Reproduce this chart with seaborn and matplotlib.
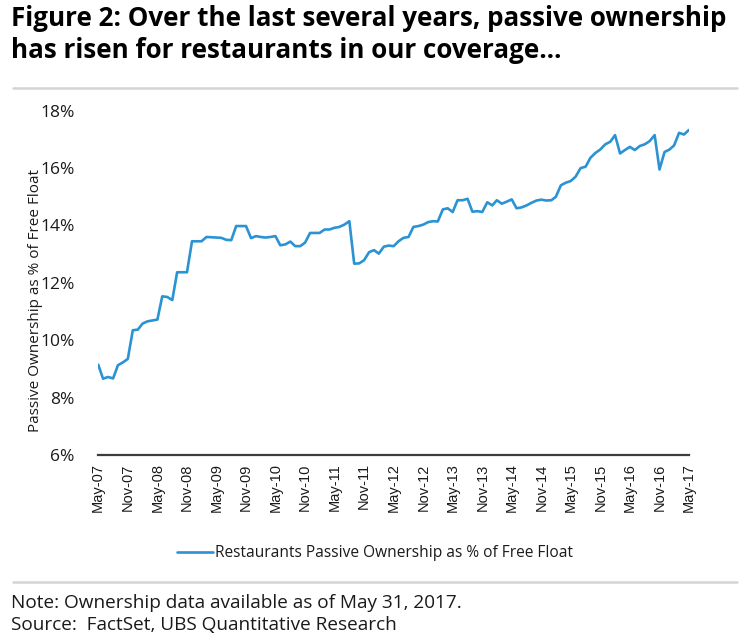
"""Restaurants passive ownership as % of free float, May-07 to May-17"""

import pandas as pd
import matplotlib
matplotlib.use('Agg')
import matplotlib.pyplot as plt
from matplotlib.lines import Line2D
from matplotlib.ticker import FuncFormatter
import seaborn as sns

# Monthly readings (% of free float)
start_month = '2007-05-31'
passive_pct = [
    9.15, 8.66, 8.72, 8.67, 9.13, 9.23, 9.35, 10.35, 10.37, 10.58,
    10.66, 10.69, 10.72, 11.53, 11.51, 11.40, 12.37, 12.37, 12.37, 13.45,
    13.45, 13.45, 13.60, 13.59, 13.58, 13.57, 13.50, 13.49, 13.98, 13.98,
    13.98, 13.56, 13.63, 13.60, 13.58, 13.60, 13.63, 13.31, 13.34, 13.44,
    13.28, 13.28, 13.40, 13.74, 13.74, 13.74, 13.86, 13.86, 13.92, 13.95,
    14.03, 14.15, 12.67, 12.68, 12.79, 13.07, 13.14, 13.02, 13.26, 13.30,
    13.28, 13.45, 13.57, 13.60, 13.95, 13.98, 14.03, 14.12, 14.15, 14.14,
    14.56, 14.60, 14.47, 14.88, 14.88, 14.93, 14.48, 14.50, 14.47, 14.81,
    14.70, 14.88, 14.76, 14.83, 14.91, 14.60, 14.63, 14.70, 14.79, 14.87,
    14.90, 14.87, 14.88, 15.00, 15.40, 15.49, 15.55, 15.70, 16.00, 16.05,
    16.36, 16.53, 16.65, 16.83, 16.92, 17.15, 16.51, 16.63, 16.74, 16.63,
    16.77, 16.83, 16.94, 17.15, 15.95, 16.56, 16.65, 16.79, 17.23, 17.17,
    17.33,
]
y_ticks = [6, 8, 10, 12, 14, 16, 18]
series_name = 'Restaurants Passive Ownership as % of Free Float'
title = ('Figure 2: Over the last several years, passive ownership\n'
         'has risen for restaurants in our coverage\u2026')
note = 'Note: Ownership data available as of May 31, 2017.'
source = 'Source:  FactSet, UBS Quantitative Research'

LINE_BLUE = '#2b93d3'
TEXT = '#1a1a1a'

df = pd.DataFrame({
    'date': pd.date_range(start_month, periods=len(passive_pct), freq='ME'),
    'pct': passive_pct,
})

sns.set_style('white')
plt.rcParams['font.family'] = ['Open Sans', 'DejaVu Sans']

fig = plt.figure(figsize=(7.44, 6.4), dpi=100)
ax = fig.add_axes([0.132, 0.289, 0.794, 0.538])

sns.lineplot(data=df, x='date', y='pct', ax=ax, color=LINE_BLUE,
             linewidth=1.9, legend=False)

ax.set_xlim(df['date'].iloc[0], df['date'].iloc[-1])
ax.set_ylim(6, 18)
ax.set_yticks(y_ticks)
ax.yaxis.set_major_formatter(FuncFormatter(lambda v, _: f'{v:.0f}%'))

# tick every six months: May and Nov
tick_dates = df['date'][df['date'].dt.month.isin([5, 11])]
ax.set_xticks(tick_dates)
ax.set_xticklabels([d.strftime('%b-%y') for d in tick_dates], rotation=90,
                   fontsize=10.5, family=['Liberation Sans', 'DejaVu Sans'],
                   color=TEXT)
ax.tick_params(axis='x', length=0, pad=6)
ax.tick_params(axis='y', length=0, pad=17, labelsize=12.5, labelcolor=TEXT)

ax.set_xlabel('')
ax.set_ylabel('Passive Ownership as % of Free Float', fontsize=11, color=TEXT)
ax.yaxis.set_label_coords(-0.093, 0.45)

for side in ['top', 'right', 'left']:
    ax.spines[side].set_visible(False)
ax.spines['bottom'].set_color('#3c3c3c')
ax.spines['bottom'].set_linewidth(1.6)

handle = Line2D([], [], color=LINE_BLUE, linewidth=1.9)
fig.legend([handle], [series_name], loc='center',
           bbox_to_anchor=(0.504, 0.136), frameon=False, fontsize=11.2,
           handlelength=2.3, handletextpad=0.15, labelcolor=TEXT)

# title, separators and footnotes
fig.text(0.015, 0.992, title, fontsize=18.7, fontweight='bold', color='black',
         va='top', linespacing=1.22)
fig.add_artist(Line2D([0.017, 0.99], [1 - 88 / 640] * 2, color='#d4d4d4',
                      linewidth=1.8))
fig.add_artist(Line2D([0.017, 0.99], [1 - 582 / 640] * 2, color='#d4d4d4',
                      linewidth=1.8))
fig.text(0.015, 1 - 603 / 640, note, fontsize=13.7, color=TEXT, va='center')
fig.text(0.015, 1 - 625 / 640, source, fontsize=13.7, color=TEXT, va='center')

fig.savefig('out.png', dpi=100)
